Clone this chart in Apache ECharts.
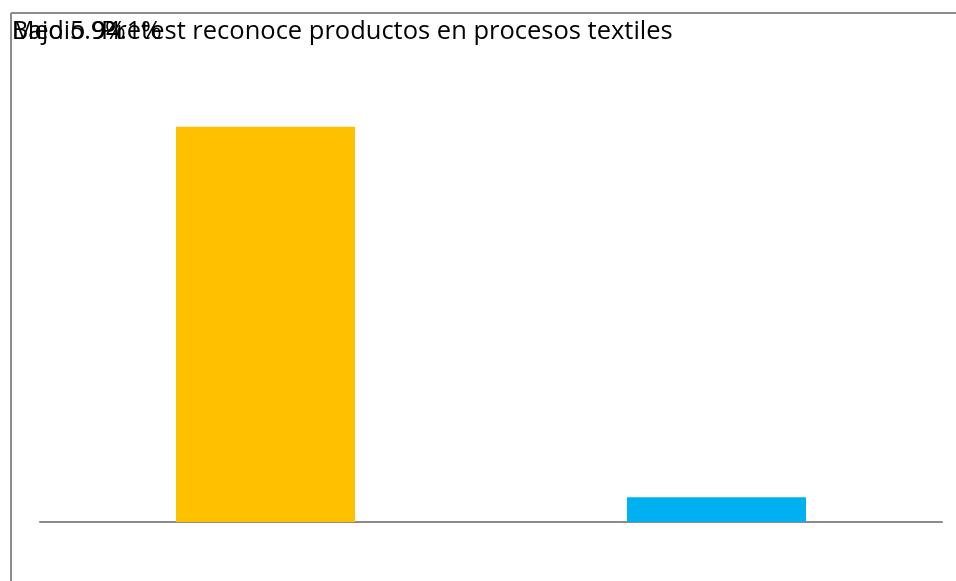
<!DOCTYPE html>
<html><head><meta charset="utf-8">
<script src="https://cdn.jsdelivr.net/npm/echarts@6/dist/echarts.min.js"></script>
<style>html,body{margin:0;padding:0;background:#fff}#c{width:956px;height:581px}</style>
</head><body><div id="c"></div>
<script>
const categories = ['Medio', 'Bajo'];
const values = [94.1, 5.9];
const colors = ['#FFC000', '#00B0F0'];
const labels = ['Bajo 5.9%', 'Medio 94.1%'];
const title = 'Pretest reconoce productos en procesos textiles';

const chart = echarts.init(document.getElementById('c'), null, {renderer: 'canvas'});
const font = '"Open Sans", sans-serif';
chart.setOption({
  animation: false,
  grid: {left: 40, right: 14, top: 102, bottom: 59, containLabel: false},
  xAxis: {
    type: 'category', data: categories,
    axisLine: {lineStyle: {color: '#8c8c8c', width: 2}},
    axisTick: {show: false}, axisLabel: {show: false}
  },
  yAxis: {type: 'value', min: 0, max: 100, show: false, splitLine: {show: false}},
  series: [{
    type: 'bar', barWidth: 179,
    data: values.map((v, i) => ({value: v, itemStyle: {color: colors[i]}}))
  }],
  graphic: [
    {type: 'line', shape: {x1: 11, y1: 13, x2: 956, y2: 13}, style: {stroke: '#8c8c8c', lineWidth: 2}},
    {type: 'line', shape: {x1: 11, y1: 13, x2: 11, y2: 581}, style: {stroke: '#8c8c8c', lineWidth: 2}},
    {type: 'text', left: 101, top: 19, style: {text: title, font: '25.5px ' + font, fill: '#000'}},
    {type: 'text', left: 12, top: 19, style: {text: labels[0], font: '25px ' + font, fill: '#000'}},
    {type: 'text', left: 12, top: 19, style: {text: labels[1], font: '25px ' + font, fill: '#000'}}
  ]
});
</script></body></html>
